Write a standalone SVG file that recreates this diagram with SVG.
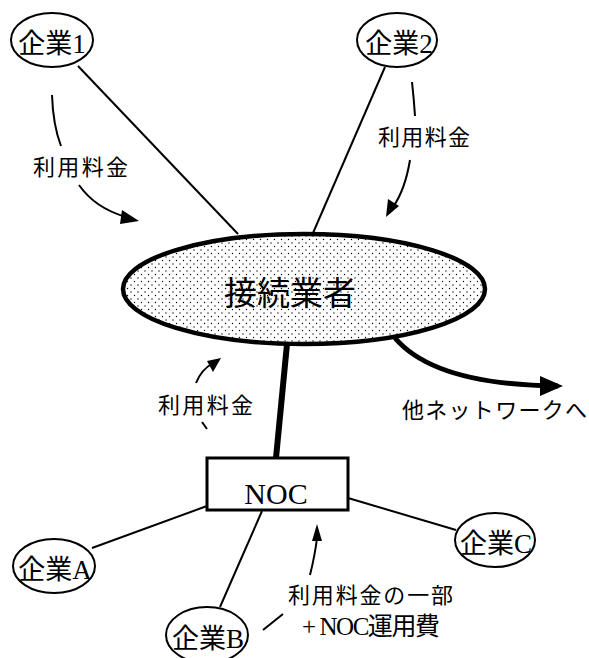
<svg xmlns="http://www.w3.org/2000/svg" width="589" height="658" viewBox="0 0 589 658">
<style>
.node{fill:#fff;stroke:#000;stroke-width:2}
.lbl{font-family:"Liberation Serif","Noto Sans CJK JP",serif;font-size:27px;fill:#000;text-anchor:middle}
.jp{font-family:"Noto Sans CJK JP",sans-serif;font-size:22px;fill:#000}
.ser{font-family:"Liberation Serif","Noto Sans CJK JP",serif;fill:#000}
.link{stroke:#000;stroke-width:2;fill:none}
.flow{stroke:#000;stroke-width:2;fill:none}
</style>
<defs>
<pattern id="dots" width="7" height="7" patternUnits="userSpaceOnUse">
<circle cx="1.5" cy="1.5" r="0.7" fill="#000"/>
<circle cx="5" cy="5" r="0.7" fill="#000"/>
</pattern>
</defs>
<rect width="589" height="658" fill="#fff"/>
<g id="connectors">
<line class="link" x1="78" y1="66" x2="238" y2="234"/>
<line class="link" x1="385" y1="67" x2="313" y2="233"/>
<line x1="287" y1="344" x2="276" y2="458" stroke="#000" stroke-width="6"/>
<line class="link" x1="207" y1="506" x2="92" y2="548"/>
<line class="link" x1="262" y1="511" x2="220" y2="607"/>
<line class="link" x1="348" y1="498" x2="456" y2="530"/>
<path d="M395,338 Q435,385 558,386" stroke="#000" stroke-width="5" fill="none"/>
<path d="M540,376 L563,386 L540,396 Z" fill="#000"/>
<path class="flow" d="M52,95 Q53,125 61,146"/>
<path class="flow" d="M79,185 Q95,208 126,217"/>
<path d="M122,210 L139,221 L120,224 Z" fill="#000"/>
<path class="flow" d="M412,82 Q414,100 415,116"/>
<path class="flow" d="M410,160 Q405,190 393,207"/>
<path d="M386,217 L388,199 L399,206 Z" fill="#000"/>
<path class="flow" d="M196,383 Q201,370 213,363"/>
<path d="M221,358 L213,372 L207,361 Z" fill="#000"/>
<line class="flow" x1="202" y1="422" x2="207" y2="429"/>
<path class="flow" d="M310,575 Q315,555 317,538"/>
<path d="M317,524 L322,541 L312,541 Z" fill="#000"/>
<line class="flow" x1="263" y1="630" x2="283" y2="614"/>
</g>
<g id="kigyo1"><ellipse class="node" cx="52" cy="40" rx="41" ry="27"/><text class="lbl" x="52" y="53">企業1</text></g>
<g id="kigyo2"><ellipse class="node" cx="397" cy="40" rx="40" ry="27"/><text class="lbl" x="399" y="53">企業2</text></g>
<g id="isp"><ellipse cx="304" cy="289" rx="181" ry="55" fill="url(#dots)" stroke="#000" stroke-width="4.5"/><text class="jp" x="290" y="305" style="font-size:33px" text-anchor="middle">接続業者</text></g>
<g id="noc"><rect x="207" y="458" width="141" height="52" fill="#fff" stroke="#000" stroke-width="3"/><text class="ser" x="276" y="504" style="font-size:30px" text-anchor="middle">NOC</text></g>
<g id="kigyoA"><ellipse class="node" cx="54" cy="566" rx="41" ry="27"/><text class="lbl" x="55" y="579">企業A</text></g>
<g id="kigyoB"><ellipse class="node" cx="207" cy="635" rx="41" ry="28"/><text class="lbl" x="208" y="648">企業B</text></g>
<g id="kigyoC"><ellipse class="node" cx="495" cy="540" rx="40" ry="27"/><text class="lbl" x="496" y="553">企業C</text></g>
<g id="labels">
<text class="jp" x="33" y="175" textLength="95">利用料金</text>
<text class="jp" x="378" y="145" textLength="92">利用料金</text>
<text class="jp" x="158" y="413" textLength="95">利用料金</text>
<text class="jp" x="402" y="418" textLength="185">他ネットワークへ</text>
<text class="jp" x="288" y="603" textLength="165">利用料金の一部</text>
<text class="ser" x="302" y="635" style="font-size:25px" textLength="138">+ NOC運用費</text>
</g>
</svg>
